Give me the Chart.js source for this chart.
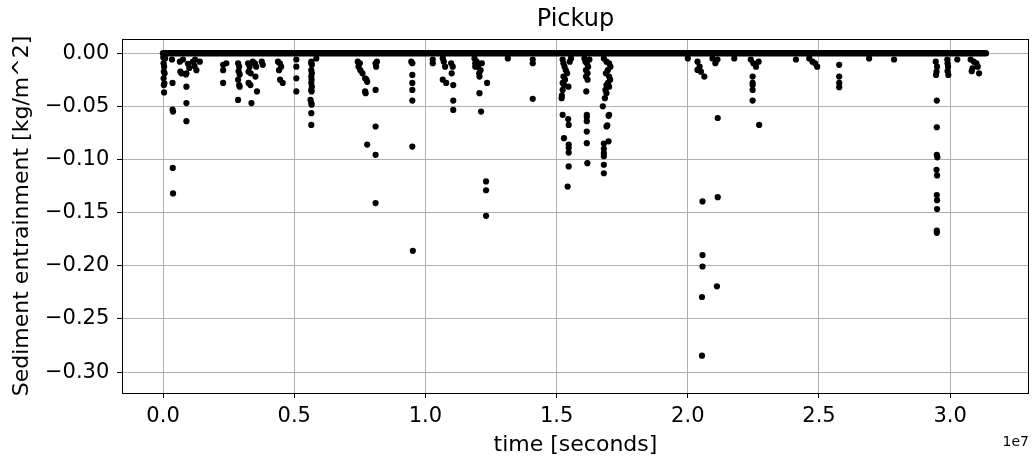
<!DOCTYPE html>
<html>
<head>
<meta charset="utf-8">
<script src="https://cdn.jsdelivr.net/npm/chart.js@4.4.1/dist/chart.umd.min.js"></script>
<style>
  html, body { margin: 0; padding: 0; background: #fff; }
  #wrap { width: 1032px; height: 457px; }
</style>
</head>
<body>
<div id="wrap"><canvas id="c" width="1032" height="457"></canvas></div>
<script>
// ---- data (time in seconds, pickup in kg/m^2) ----
const chartTitle = "Pickup";
const xLabel = "time [seconds]";
const yLabel = "Sediment entrainment [kg/m^2]";
const xTicks = [0, 0.5e7, 1.0e7, 1.5e7, 2.0e7, 2.5e7, 3.0e7];
const yTicks = [0, -0.05, -0.10, -0.15, -0.20, -0.25, -0.30];
const xOffsetLabel = "1e7";

// dense band of (near) zero pickup covering the whole record
const zeroBandTime = [0, 3.136e7];
const zeroBandValue = [0, 0];

// individual pickup events
const eventTime = [
  0.002e7,0.004e7,0.003e7,0.006e7,0.002e7,0.005e7,0.003e7,0.004e7,0.008e7,0.001e7,
  0.036e7,0.036e7,0.038e7,0.037e7,0.038e7,0.034e7,
  0.064e7,0.066e7,0.070e7,0.076e7,
  0.089e7,0.089e7,0.089e7,0.089e7,0.087e7,
  0.095e7,0.100e7,0.114e7,0.120e7,0.127e7,0.122e7,0.140e7,
  0.229e7,0.229e7,0.229e7,0.241e7,
  0.286e7,0.290e7,0.288e7,0.292e7,0.286e7,0.290e7,0.292e7,0.286e7,
  0.324e7,0.330e7,0.326e7,0.334e7,0.326e7,0.333e7,0.337e7,
  0.342e7,0.350e7,0.355e7,0.352e7,0.358e7,
  0.376e7,0.380e7,
  0.438e7,0.445e7,0.450e7,0.442e7,0.446e7,0.456e7,
  0.508e7,0.508e7,0.508e7,0.508e7,
  0.565e7,0.565e7,0.567e7,0.565e7,0.567e7,0.565e7,0.566e7,0.565e7,0.567e7,0.565e7,0.566e7,0.562e7,0.565e7,0.566e7,0.565e7,0.565e7,0.584e7,
  0.742e7,0.750e7,0.745e7,0.752e7,0.760e7,0.770e7,0.775e7,0.778e7,0.770e7,0.772e7,0.778e7,
  0.810e7,0.812e7,0.810e7,0.810e7,0.810e7,0.810e7,0.815e7,
  0.946e7,0.950e7,0.950e7,0.950e7,0.950e7,0.950e7,0.950e7,0.952e7,
  1.028e7,1.028e7,
  1.066e7,1.070e7,1.075e7,1.066e7,1.079e7,
  1.098e7,1.104e7,1.100e7,1.106e7,1.106e7,1.106e7,
  1.187e7,1.195e7,1.190e7,1.200e7,1.210e7,1.205e7,1.206e7,1.190e7,1.215e7,1.206e7,1.212e7,1.235e7,1.231e7,1.231e7,1.231e7,
  1.314e7,1.409e7,1.409e7,1.409e7,
  1.523e7,1.526e7,1.530e7,1.535e7,1.540e7,1.526e7,1.532e7,1.523e7,1.528e7,1.545e7,1.523e7,1.520e7,1.519e7,1.523e7,1.544e7,1.546e7,1.528e7,1.546e7,1.546e7,1.546e7,1.546e7,1.542e7,1.550e7,1.555e7,
  1.606e7,1.610e7,1.615e7,1.620e7,1.612e7,1.618e7,1.612e7,1.618e7,1.613e7,1.615e7,1.615e7,1.615e7,1.615e7,1.615e7,1.617e7,1.625e7,
  1.680e7,1.690e7,1.700e7,1.705e7,1.695e7,1.688e7,1.700e7,1.704e7,1.696e7,1.690e7,1.700e7,1.686e7,1.690e7,1.684e7,1.676e7,1.700e7,1.698e7,1.693e7,1.690e7,1.698e7,1.680e7,1.680e7,1.680e7,1.680e7,1.680e7,1.680e7,
  2.000e7,2.037e7,
  2.037e7,2.045e7,2.050e7,2.063e7,2.056e7,2.056e7,2.056e7,2.054e7,2.054e7,
  2.094e7,2.105e7,2.113e7,2.114e7,2.114e7,2.111e7,
  2.177e7,
  2.240e7,2.250e7,2.260e7,2.270e7,2.247e7,2.247e7,2.247e7,2.247e7,2.247e7,2.272e7,
  2.412e7,
  2.463e7,2.475e7,2.485e7,2.493e7,
  2.577e7,2.577e7,2.577e7,2.577e7,
  2.691e7,2.786e7,
  2.945e7,2.950e7,2.948e7,2.946e7,2.949e7,2.949e7,2.949e7,2.951e7,2.948e7,2.950e7,2.949e7,2.950e7,2.950e7,2.949e7,2.949e7,
  2.989e7,2.990e7,2.992e7,2.990e7,2.993e7,
  3.027e7,
  3.078e7,3.090e7,3.100e7,3.085e7,3.105e7,3.110e7,3.082e7
];
const eventPickup = [
  -0.0095,-0.0127,-0.0174,-0.019,-0.0237,-0.0284,-0.030,-0.037,-0.005,-0.004,
  -0.028,-0.053,-0.055,-0.108,-0.132,-0.006,
  -0.008,-0.0174,-0.019,-0.006,
  -0.019,-0.0315,-0.047,-0.064,-0.020,
  -0.010,-0.014,-0.008,-0.012,-0.016,-0.006,-0.008,
  -0.011,-0.016,-0.028,-0.0095,
  -0.0095,-0.0127,-0.017,-0.020,-0.025,-0.030,-0.0315,-0.044,
  -0.0095,-0.0127,-0.0174,-0.019,-0.028,-0.030,-0.047,
  -0.008,-0.0095,-0.0127,-0.022,-0.036,
  -0.008,-0.011,
  -0.008,-0.0095,-0.0127,-0.016,-0.025,-0.028,
  -0.006,-0.0127,-0.0237,-0.036,
  -0.008,-0.0095,-0.011,-0.016,-0.019,-0.022,-0.025,-0.028,-0.0315,-0.0346,-0.036,-0.044,-0.047,-0.0485,-0.0565,-0.0675,-0.005,
  -0.008,-0.0095,-0.0127,-0.016,-0.019,-0.0237,-0.025,-0.027,-0.036,-0.0377,-0.086,
  -0.0095,-0.0127,-0.0346,-0.069,-0.0957,-0.141,-0.008,
  -0.008,-0.0095,-0.0205,-0.028,-0.0346,-0.0446,-0.0879,-0.186,
  -0.006,-0.0095,
  -0.005,-0.008,-0.0127,-0.025,-0.028,
  -0.0095,-0.0127,-0.019,-0.030,-0.0446,-0.0534,
  -0.005,-0.008,-0.0095,-0.0127,-0.016,-0.019,-0.022,-0.0127,-0.0095,-0.0377,-0.055,-0.028,-0.1207,-0.129,-0.153,
  -0.005,-0.006,-0.0095,-0.043,
  -0.006,-0.0095,-0.0127,-0.016,-0.019,-0.022,-0.025,-0.028,-0.030,-0.0315,-0.0346,-0.040,-0.0424,-0.058,-0.062,-0.0675,-0.080,-0.086,-0.089,-0.0935,-0.1066,-0.1255,-0.008,-0.005,
  -0.005,-0.008,-0.0095,-0.0127,-0.016,-0.019,-0.022,-0.025,-0.036,-0.058,-0.060,-0.064,-0.0738,-0.0847,-0.1035,-0.006,
  -0.005,-0.008,-0.0095,-0.0127,-0.016,-0.019,-0.022,-0.025,-0.028,-0.030,-0.0315,-0.0346,-0.0377,-0.0424,-0.050,-0.058,-0.059,-0.068,-0.069,-0.083,-0.085,-0.090,-0.094,-0.097,-0.105,-0.113,
  -0.005,-0.0158,
  -0.008,-0.0127,-0.0174,-0.022,-0.1395,-0.190,-0.2007,-0.2294,-0.2846,
  -0.005,-0.0095,-0.006,-0.061,-0.1355,-0.2194,
  -0.005,
  -0.006,-0.0095,-0.0127,-0.008,-0.022,-0.028,-0.030,-0.0346,-0.0446,-0.0675,
  -0.006,
  -0.005,-0.008,-0.0095,-0.0127,
  -0.011,-0.022,-0.028,-0.032,
  -0.005,-0.006,
  -0.008,-0.0127,-0.0174,-0.0205,-0.0446,-0.0697,-0.0957,-0.098,-0.1098,-0.115,-0.1335,-0.1383,-0.1467,-0.167,-0.169,
  -0.006,-0.0095,-0.0127,-0.017,-0.0205,
  -0.006,
  -0.006,-0.008,-0.0095,-0.0142,-0.0127,-0.019,-0.017
];

// ---- chart ----
const FONT = "DejaVu Sans";
const toXY = (xs, ys) => xs.map((x, i) => ({ x: x, y: ys[i] }));

const frameAndOffset = {
  id: 'frameAndOffset',
  afterDraw(chart) {
    const { ctx, chartArea: a } = chart;
    ctx.save();
    ctx.strokeStyle = '#000';
    ctx.lineWidth = 1;
    ctx.strokeRect(Math.round(a.left) + 0.5, Math.round(a.top) + 0.5,
                   Math.round(a.right - a.left) - 1, Math.round(a.bottom - a.top));
    ctx.fillStyle = '#000';
    ctx.font = '14px "' + FONT + '"';
    ctx.textAlign = 'right';
    ctx.textBaseline = 'alphabetic';
    ctx.fillText(xOffsetLabel, a.right, a.bottom + 53);
    ctx.restore();
  }
};

new Chart(document.getElementById('c'), {
  type: 'scatter',
  data: {
    datasets: [
      {
        type: 'line',
        data: toXY(zeroBandTime, zeroBandValue),
        borderColor: '#000',
        borderWidth: 6.5,
        borderCapStyle: 'round',
        pointRadius: 0,
        fill: false,
        order: 2
      },
      {
        data: toXY(eventTime, eventPickup),
        backgroundColor: '#000',
        borderWidth: 0,
        pointRadius: 3.1,
        pointHoverRadius: 3.1,
        order: 1
      }
    ]
  },
  options: {
    responsive: false,
    animation: false,
    devicePixelRatio: 1,
    layout: { padding: { left: 0, right: 0, top: 0, bottom: 0 } },
    plugins: {
      legend: { display: false },
      tooltip: { enabled: false },
      title: {
        display: true,
        text: chartTitle,
        fullSize: false,
        color: '#000',
        font: { family: FONT, size: 24, weight: 'normal', lineHeight: 1.2 },
        padding: { top: 5.6, bottom: 4.6 }
      }
    },
    scales: {
      x: {
        type: 'linear',
        min: -0.1565e7,
        max: 3.300e7,
        afterBuildTicks: (s) => { s.ticks = xTicks.map(v => ({ value: v })); },
        afterFit: (s) => { s.height = 64; },
        ticks: {
          color: '#000',
          padding: 5.5,
          maxRotation: 0,
          autoSkip: false,
          font: { family: FONT, size: 21 },
          callback: (v) => (v / 1e7).toFixed(1)
        },
        grid: { color: '#b0b0b0', lineWidth: 1, tickColor: '#000', tickLength: 5, drawTicks: true },
        border: { display: true, color: '#000', width: 1 },
        title: {
          display: true,
          text: xLabel,
          color: '#000',
          font: { family: FONT, size: 22, lineHeight: 1.0 },
          padding: { top: 0, bottom: 0.5 }
        }
      },
      y: {
        type: 'linear',
        min: -0.3197,
        max: 0.0133,
        afterBuildTicks: (s) => { s.ticks = yTicks.map(v => ({ value: v })); },
        afterFit: (s) => { s.width = 122; },
        ticks: {
          color: '#000',
          padding: 7.7,
          autoSkip: false,
          font: { family: FONT, size: 21 },
          callback: (v) => (Math.abs(v) < 1e-9 ? '0.00' : '\u2212' + Math.abs(v).toFixed(2))
        },
        grid: { color: '#b0b0b0', lineWidth: 1, tickColor: '#000', tickLength: 5, drawTicks: true },
        border: { display: true, color: '#000', width: 1 },
        title: {
          display: true,
          text: yLabel,
          color: '#000',
          font: { family: FONT, size: 22, lineHeight: 1.2 },
          padding: { top: 8.8, bottom: 0 }
        }
      }
    }
  },
  plugins: [frameAndOffset]
});
</script>
</body>
</html>
